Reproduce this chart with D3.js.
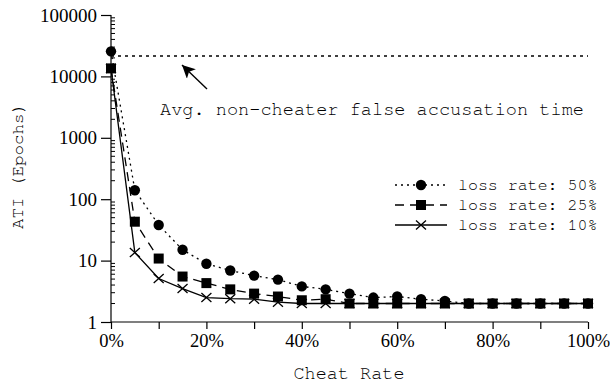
<!DOCTYPE html>
<html><head><meta charset="utf-8">
<script src="https://cdn.jsdelivr.net/npm/d3@7"></script>
<style>body{margin:0;background:#fff}svg{display:block}</style>
</head><body>
<svg id="c" width="610" height="386"></svg>
<script>
const cheatRates = [0,5,10,15,20,25,30,35,40,45,50,55,60,65,70,75,80,85,90,95,100];
const loss50 = [25600,140,38,15,8.9,6.9,5.7,4.9,3.8,3.4,2.9,2.5,2.6,2.35,2.2,2,2,2,2,2,2];
const loss25 = [13500,43,10.8,5.5,4.3,3.4,2.9,2.6,2.26,2.35,2,2,2,2,2,2,2,2,2,2,2];
const loss10 = [13500,13.5,5.1,3.5,2.5,2.4,2.35,2.1,2,2,2,2,2,2,2,2,2,2,2,2,2];
const seriesNames = ["loss rate: 50%","loss rate: 25%","loss rate: 10%"];
const avgFalseAccusation = 21500;
const yTicks = [1,10,100,1000,10000,100000];
const xTickLabels = [0,20,40,60,80,100];
const annotation = "Avg. non-cheater false accusation time";

const svg = d3.select("#c");
const x = d3.scaleLinear().domain([0,100]).range([111,588]);
const y = d3.scaleLog().domain([1,100000]).range([322,15]);
const mono = "FreeMono";
const serif = "Liberation Serif";
const X0 = x(0);

// axes
const yAxis = d3.axisLeft(y).tickValues(yTicks).tickFormat(d3.format("d")).tickSize(10).tickPadding(4);
const gy = svg.append("g").attr("transform",`translate(${X0},0)`).call(yAxis);
gy.attr("font-family",serif).attr("font-size",19);
gy.select(".domain").attr("d",`M0,${y(100000)}V${y(1)}`);
gy.selectAll("text").attr("font-family",serif).attr("font-size",19).attr("fill","#000");
// minor ticks inward
const minors = [];
for (let e=0;e<5;e++) for (let m=2;m<=9;m++) minors.push(m*Math.pow(10,e));
svg.append("g").selectAll("line").data(minors).join("line")
  .attr("x1",X0).attr("x2",X0+4).attr("y1",d=>y(d)).attr("y2",d=>y(d))
  .attr("stroke","#000").attr("stroke-width",1);

const xAxis = d3.axisBottom(x).tickValues(d3.range(0,101,10)).tickSize(7).tickPadding(5)
  .tickFormat(d => xTickLabels.includes(d) ? d+"%" : "");
const gx = svg.append("g").attr("transform",`translate(0,${y(1)})`).call(xAxis);
gx.attr("font-family",serif).attr("font-size",18.5);
gx.select(".domain").attr("d",`M${x(0)},0H${x(100)}`);
gx.selectAll("text").attr("font-family",serif).attr("font-size",18.5).attr("fill","#000");
svg.selectAll(".domain, .tick line").attr("stroke","#000").attr("stroke-width",1.2);

// axis titles
svg.append("text").attr("x",349).attr("y",379).attr("text-anchor","middle")
  .attr("font-family",mono).attr("font-size",18.5).attr("fill","#000").text("Cheat Rate");
svg.append("text").attr("transform","translate(23,166) rotate(-90)").attr("text-anchor","middle")
  .attr("font-family",mono).attr("font-size",17.5).attr("fill","#000").text("ATI (Epochs)");

// reference line
svg.append("line").attr("x1",x(0)).attr("x2",x(100)).attr("y1",y(avgFalseAccusation)).attr("y2",y(avgFalseAccusation))
  .attr("stroke","#000").attr("stroke-width",1.3).attr("stroke-dasharray","3,4");

// arrow
svg.append("defs").append("marker").attr("id","ah").attr("viewBox","0 0 10 10").attr("refX",10).attr("refY",5)
  .attr("markerWidth",16).attr("markerHeight",13).attr("markerUnits","userSpaceOnUse").attr("orient","auto")
  .append("path").attr("d","M0,0L10,5L0,10L2.5,5Z").attr("fill","#000");
svg.append("line").attr("x1",207).attr("y1",89).attr("x2",182).attr("y2",65)
  .attr("stroke","#000").attr("stroke-width",1.4).attr("marker-end","url(#ah)");
svg.append("text").attr("x",160).attr("y",115).attr("font-family",mono).attr("font-size",18.6)
  .attr("fill","#000").text(annotation);

// series
const styles = [
  {data:loss50, dash:"2,4", marker:"circle"},
  {data:loss25, dash:"9,6", marker:"square"},
  {data:loss10, dash:null, marker:"cross"}
];
const line = d3.line().x((d,i)=>x(cheatRates[i])).y(d=>y(d));
function drawMarker(g, type, cx, cy){
  if (type==="circle") g.append("circle").attr("cx",cx).attr("cy",cy).attr("r",5.2).attr("fill","#000");
  else if (type==="square") g.append("rect").attr("x",cx-5).attr("y",cy-5).attr("width",10).attr("height",10).attr("fill","#000");
  else g.append("path").attr("d",`M${cx-5},${cy-4.5}L${cx+5},${cy+4.5}M${cx-5},${cy+4.5}L${cx+5},${cy-4.5}`)
    .attr("stroke","#000").attr("stroke-width",1.3).attr("fill","none");
}
styles.slice().reverse().forEach(s=>{
  svg.append("path").datum(s.data).attr("d",line).attr("fill","none").attr("stroke","#000")
    .attr("stroke-width",1.3).attr("stroke-dasharray",s.dash);
});
styles.slice().reverse().forEach(s=>{
  const g = svg.append("g");
  s.data.forEach((v,i)=>drawMarker(g, s.marker, x(cheatRates[i]), y(v)));
});

// legend
styles.forEach((s,i)=>{
  const ly = 185 + i*20;
  svg.append("line").attr("x1",395).attr("x2",447).attr("y1",ly).attr("y2",ly)
    .attr("stroke","#000").attr("stroke-width",1.3).attr("stroke-dasharray",s.dash);
  drawMarker(svg, s.marker, 421, ly);
  svg.append("text").attr("x",458).attr("y",ly+5).attr("font-family",mono).attr("font-size",16.6)
    .attr("fill","#000").text(seriesNames[i]);
});
</script>
</body></html>
